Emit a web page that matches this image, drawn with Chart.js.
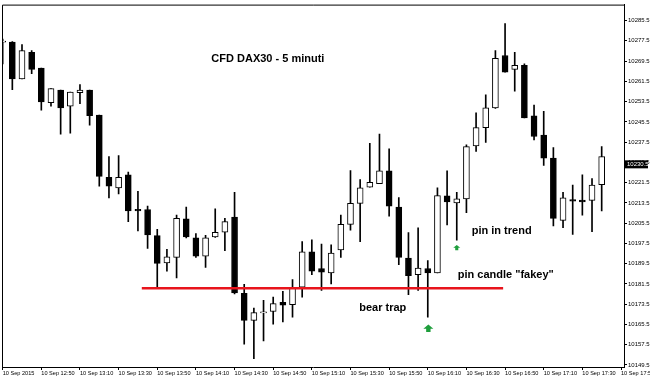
<!DOCTYPE html>
<html>
<head>
<meta charset="utf-8">
<script src="https://cdn.jsdelivr.net/npm/chart.js@4.4.1/dist/chart.umd.min.js"></script>
<style>
  html, body { margin: 0; padding: 0; background: #fff; }
  #wrap { width: 650px; height: 378px; }
</style>
</head>
<body>
<div id="wrap"><canvas id="chart"></canvas></div>
<script>
'use strict'

// DAX30 5 minute candles, 10 Sep 2015 from 12:30 to 17:40
var opens = [
  10277.0, 10277.0, 10262.5, 10273.0, 10266.7, 10253.1, 10258.0, 10251.7, 10257.0, 10258.0,
  10248.2, 10223.6, 10219.4, 10224.6, 10211.0, 10210.9, 10200.6, 10189.8, 10192.0, 10207.2,
  10199.7, 10192.5, 10200.1, 10201.9, 10207.9, 10177.8, 10167.1, 10170.1, 10170.6, 10174.2,
  10173.3, 10180.2, 10194.2, 10187.6, 10185.8, 10194.9, 10205.0, 10213.3, 10219.7, 10221.1,
  10226.2, 10211.8, 10191.7, 10185.2, 10187.6, 10185.8, 10216.3, 10213.5, 10215.1, 10236.0,
  10243.2, 10251.0, 10271.7, 10266.2, 10267.8, 10247.9, 10240.3, 10231.2, 10206.6, 10214.8,
  10214.6, 10214.5, 10220.7
]
var highs = [
  10278.2, 10277.2, 10276.0, 10273.6, 10266.7, 10258.6, 10258.0, 10257.3, 10260.2, 10258.0,
  10248.2, 10231.8, 10232.2, 10225.7, 10218.1, 10212.2, 10203.1, 10195.2, 10208.7, 10211.8,
  10201.4, 10200.7, 10211.2, 10207.4, 10217.7, 10181.3, 10172.0, 10175.0, 10176.3, 10178.6,
  10183.2, 10198.2, 10198.9, 10197.2, 10196.9, 10208.7, 10226.3, 10222.7, 10237.0, 10240.7,
  10234.8, 10215.6, 10201.8, 10203.7, 10190.7, 10219.4, 10226.2, 10217.7, 10236.4, 10249.1,
  10256.2, 10273.6, 10284.3, 10273.0, 10268.4, 10252.1, 10249.7, 10235.3, 10217.7, 10220.5,
  10224.6, 10223.1, 10235.7
]
var lows = [
  10268.4, 10258.2, 10262.5, 10264.5, 10250.1, 10251.7, 10240.6, 10241.0, 10252.7, 10244.2,
  10220.1, 10215.5, 10217.0, 10206.1, 10202.4, 10195.5, 10180.2, 10186.5, 10183.9, 10199.7,
  10192.0, 10188.0, 10199.9, 10194.6, 10177.6, 10157.7, 10152.0, 10159.0, 10165.6, 10166.5,
  10168.4, 10176.3, 10185.2, 10178.9, 10181.5, 10192.0, 10202.7, 10198.2, 10219.7, 10221.1,
  10208.3, 10189.1, 10177.3, 10178.9, 10168.4, 10185.8, 10204.8, 10198.8, 10209.6, 10233.8,
  10237.4, 10250.8, 10265.1, 10257.6, 10247.1, 10238.4, 10228.3, 10204.4, 10203.7, 10201.1,
  10208.7, 10202.1, 10210.3
]
var closes = [
  10277.4, 10262.5, 10273.6, 10266.2, 10253.4, 10258.6, 10251.0, 10257.3, 10258.0, 10247.9,
  10224.0, 10220.1, 10223.6, 10210.3, 10210.3, 10200.9, 10189.6, 10192.2, 10207.4, 10200.1,
  10192.5, 10199.7, 10201.9, 10206.1, 10178.0, 10167.1, 10170.2, 10170.3, 10173.7, 10173.1,
  10179.8, 10194.2, 10186.5, 10186.1, 10193.7, 10205.0, 10213.3, 10219.4, 10221.6, 10226.2,
  10212.2, 10192.0, 10184.8, 10187.8, 10185.8, 10216.4, 10213.9, 10215.1, 10235.7, 10243.2,
  10251.0, 10270.6, 10265.1, 10267.8, 10247.1, 10239.7, 10231.2, 10207.4, 10215.5, 10214.2,
  10213.9, 10220.5, 10231.8
]

// time axis: label every 4 bars
var timeTickBars = [0, 4, 8, 12, 16, 20, 24, 28, 32, 36, 40, 44, 48, 52, 56, 60, 64]
var timeLabels = [
  '10 Sep 2015', '10 Sep 12:50', '10 Sep 13:10', '10 Sep 13:30', '10 Sep 13:50', '10 Sep 14:10',
  '10 Sep 14:30', '10 Sep 14:50', '10 Sep 15:10', '10 Sep 15:30', '10 Sep 15:50', '10 Sep 16:10',
  '10 Sep 16:30', '10 Sep 16:50', '10 Sep 17:10', '10 Sep 17:30', '10 Sep 17:50'
]
var priceTicks = [
  10149.5, 10157.5, 10165.5, 10173.5, 10181.5, 10189.5, 10197.5, 10205.5, 10213.5,
  10221.5, 10229.5, 10237.5, 10245.5, 10253.5, 10261.5, 10269.5, 10277.5, 10285.5
]
var bidPrice = 10230.5

// objects drawn on the chart (bar index / price)
var supportLine = [{ x: 14.4, y: 10179.8 }, { x: 51.8, y: 10179.8 }]
var arrowBars = [44.06, 47.0]
var arrowPrices = [10165.5, 10196.9]
var noteTexts = ['CFD DAX30 - 5 minuti', 'pin in trend', 'pin candle "fakey"', 'bear trap']
var noteBars = [21.6, 48.55, 47.1, 36.9]
var notePrices = [10269.1, 10201.4, 10183.7, 10170.8]

var arrowSizes = [10, 7]
var fontFamily = "'Liberation Sans', Arial, sans-serif"

var bodyData = opens.map(function (o, i) { return { x: i, y: [o, closes[i]] } })
var wickData = lows.map(function (l, i) { return { x: i, y: [l, highs[i]] } })
var bodyColors = opens.map(function (o, i) { return closes[i] >= o ? '#ffffff' : '#000000' })

var overlayPlugin = {
  id: 'overlay',
  afterDraw: function (chart) {
    var ctx = chart.ctx
    var area = chart.chartArea
    var xs = chart.scales.x
    var ys = chart.scales.y
    ctx.save()

    // frame top and left
    ctx.strokeStyle = '#000'
    ctx.lineWidth = 1
    ctx.beginPath()
    ctx.moveTo(area.left + 0.5, area.bottom)
    ctx.lineTo(area.left + 0.5, area.top + 0.5)
    ctx.lineTo(area.right, area.top + 0.5)
    ctx.stroke()

    // green arrows
    ctx.fillStyle = '#1e9e3c'
    arrowBars.forEach(function (b, i) {
      var s = arrowSizes[i]
      var cx = xs.getPixelForValue(b)
      var ty = ys.getPixelForValue(arrowPrices[i])
      var hh = s * 0.42
      ctx.beginPath()
      ctx.moveTo(cx, ty)
      ctx.lineTo(cx + s / 2, ty + hh)
      ctx.lineTo(cx + s * 0.22, ty + hh)
      ctx.lineTo(cx + s * 0.22, ty + s * 0.75)
      ctx.lineTo(cx - s * 0.22, ty + s * 0.75)
      ctx.lineTo(cx - s * 0.22, ty + hh)
      ctx.lineTo(cx - s / 2, ty + hh)
      ctx.closePath()
      ctx.fill()
    })

    // text notes
    ctx.fillStyle = '#000'
    ctx.font = 'bold 11px ' + fontFamily
    ctx.textAlign = 'left'
    ctx.textBaseline = 'alphabetic'
    noteTexts.forEach(function (t, i) {
      ctx.fillText(t, xs.getPixelForValue(noteBars[i]), ys.getPixelForValue(notePrices[i]))
    })

    // bid price box on the price axis
    var by = ys.getPixelForValue(bidPrice) + 4.5
    ctx.fillStyle = '#000'
    ctx.fillRect(area.right, by - 4, 24, 8)
    ctx.fillStyle = '#fff'
    ctx.font = '6px ' + fontFamily
    ctx.textBaseline = 'middle'
    ctx.fillText(bidPrice.toFixed(1), area.right + 3, by)
    ctx.restore()
  }
}

var ctx = document.getElementById('chart').getContext('2d')

var chart = new Chart(ctx, {
  type: 'bar',
  data: {
    datasets: [
      {
        label: 'body',
        data: bodyData,
        backgroundColor: bodyColors,
        borderColor: '#000',
        borderWidth: 1,
        borderSkipped: false,
        barThickness: 6,
        minBarLength: 1,
        grouped: false,
        order: 1
      },
      {
        label: 'wick',
        data: wickData,
        backgroundColor: '#000',
        borderWidth: 0,
        barThickness: 1,
        grouped: false,
        order: 2
      },
      {
        type: 'line',
        label: 'support',
        data: supportLine,
        borderColor: '#e8141c',
        borderWidth: 2.6,
        pointRadius: 0,
        order: 0
      }
    ]
  },
  options: {
    responsive: true,
    maintainAspectRatio: false,
    animation: false,
    layout: { padding: { left: 2, top: 2, right: 0, bottom: 0 } },
    plugins: {
      legend: { display: false },
      tooltip: { enabled: false }
    },
    scales: {
      x: {
        type: 'linear',
        min: -0.07,
        max: 64.31,
        offset: false,
        afterBuildTicks: function (scale) {
          scale.ticks = timeTickBars.map(function (v) { return { value: v } })
        },
        afterFit: function (scale) {
          scale.height = 11
          scale.paddingLeft = 0
          scale.paddingRight = 0
        },
        ticks: {
          autoSkip: false,
          maxRotation: 0,
          align: 'start',
          padding: 0,
          color: '#000',
          font: { family: fontFamily, size: 5.6 },
          callback: function (value, index) { return timeLabels[index] }
        },
        grid: { display: true, drawOnChartArea: false, drawTicks: true, tickLength: 3, color: '#000', offset: false },
        border: { display: true, color: '#000', width: 1 }
      },
      y: {
        type: 'linear',
        position: 'right',
        min: 10148.7,
        max: 10291.8,
        afterBuildTicks: function (scale) {
          scale.ticks = priceTicks.map(function (v) { return { value: v } })
        },
        afterFit: function (scale) {
          scale.width = 26
        },
        ticks: {
          padding: 1,
          color: '#000',
          font: { family: fontFamily, size: 6 },
          callback: function (value) { return value.toFixed(1) }
        },
        grid: { display: true, drawOnChartArea: false, drawTicks: true, tickLength: 3, color: '#000' },
        border: { display: true, color: '#000', width: 1 }
      }
    }
  },
  plugins: [overlayPlugin]
})
</script>
</body>
</html>
